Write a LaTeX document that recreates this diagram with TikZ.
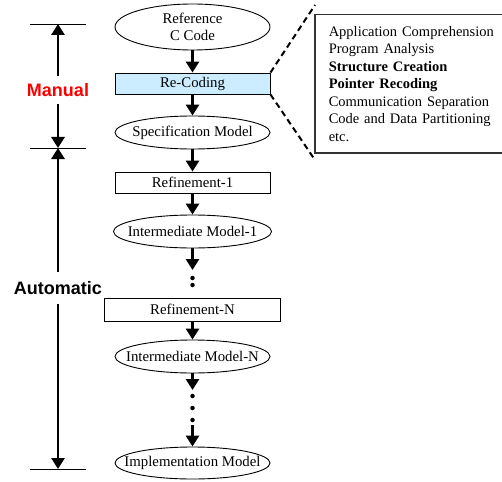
\documentclass[tikz,border=0pt]{standalone}
\usepackage{fontspec}
\setmainfont{Liberation Serif}
\newfontfamily\arialfont{Liberation Sans}
\usepackage{tikz}
\usetikzlibrary{arrows.meta}
\usetikzlibrary{shapes,positioning}
\definecolor{recodeblue}{RGB}{204,236,255}
\tikzset{model/.style={ellipse, draw, inner xsep=-25pt, inner ysep=0pt,
    minimum width=155pt, minimum height=33pt},
  refinement/.style={rectangle, draw, inner sep=0pt, minimum width=155pt,
    minimum height=21pt},
  flow/.style={-{Triangle[width=13pt,length=11pt]}, line width=2.8pt},
  dot/.style={circle, fill, inner sep=0pt, minimum size=4.5pt},
  phase/.style={font=\arialfont\bfseries\fontsize{18}{18}\selectfont,
    inner sep=7pt},
  zoomline/.style={line width=2pt, dash pattern=on 6pt off 4pt}}

\begin{document}
\begin{tikzpicture}[x=1pt, y=-1pt, line width=0.9pt,
    every node/.style={font=\fontsize{14.8}{16.5}\selectfont}]
  \useasboundingbox (0,0) rectangle (502,481);
  \node[model, minimum height=46pt, align=center] (refc) at (192.5,27)
    {Reference\\C Code};
  \node[refinement, fill=recodeblue] (recode) at (192.5,83.5) {Re-Coding};
  \node[model] (spec) at (192.5,132.5) {Specification Model};
  \node[refinement] (refine1) at (192.5,182.5) {Refinement-1};
  \node[model, minimum width=158pt] (inter1) at (192.5,231.5)
    {Intermediate Model-1};
  \coordinate (tip1) at (192.5,270);
  \node[dot] (dotA) at (192.5,278) {};
  \node[dot] (dotB) at (192.5,285) {};
  \node[refinement, minimum width=176pt, minimum height=23pt] (refineN)
    at (192.5,309.5) {Refinement-N};
  \node[model] (interN) at (192.5,356.5) {Intermediate Model-N};
  \coordinate (tip2) at (192.5,390);
  \node[dot] (dotC) at (192.5,396) {};
  \node[dot] (dotD) at (192.5,408) {};
  \node[dot] (dotE) at (192.5,420) {};
  \node[model, minimum height=32pt] (impl) at (192.5,463)
    {Implementation Model};

  \draw[flow] (refc) -- (recode);
  \draw[flow] (recode) -- (spec);
  \draw[flow] (spec) -- (refine1);
  \draw[flow] (refine1) -- (inter1);
  \draw[flow] (inter1) -- (tip1);
  \draw[flow] (refineN) -- (interN);
  \draw[flow] (interN) -- (tip2);
  \draw[flow, shorten <=2pt] (dotE) -- (impl);

  \coordinate (mtop) at (58,24);
  \coordinate (msplit) at (58,148);
  \coordinate (mend) at (58,469);
  \node[phase, text=red] (manual) at (58,90) {Manual};
  \node[phase, inner ysep=9pt] (auto) at (58,288) {Automatic};
  \draw[flow] (manual) -- (mtop);
  \draw[flow] (manual) -- (msplit);
  \draw[flow] (auto) -- (msplit);
  \draw[flow] (auto) -- (mend);
  \foreach \c in {mtop, msplit, mend}
    \draw ([xshift=-28pt]\c) -- ([xshift=28pt]\c);

  \node[draw=black!80, line width=1.5pt, anchor=north west, inner xsep=14pt,
    text width=172pt, minimum height=138pt, align=left,
    font=\fontsize{14.5}{17.5}\selectfont] (tasks) at (314,14)
    {Application Comprehension\\Program Analysis\\
     \textbf{Structure Creation}\\\textbf{Pointer Recoding}\\
     Communication Separation\\Code and Data Partitioning\\etc.};
  \coordinate (zoomtop) at (315,5);
  \coordinate (zoombot) at (315,160);
  \draw[zoomline] (recode.north east) -- (zoomtop);
  \draw[zoomline] (recode.south east) -- (zoombot);
\end{tikzpicture}
\end{document}
